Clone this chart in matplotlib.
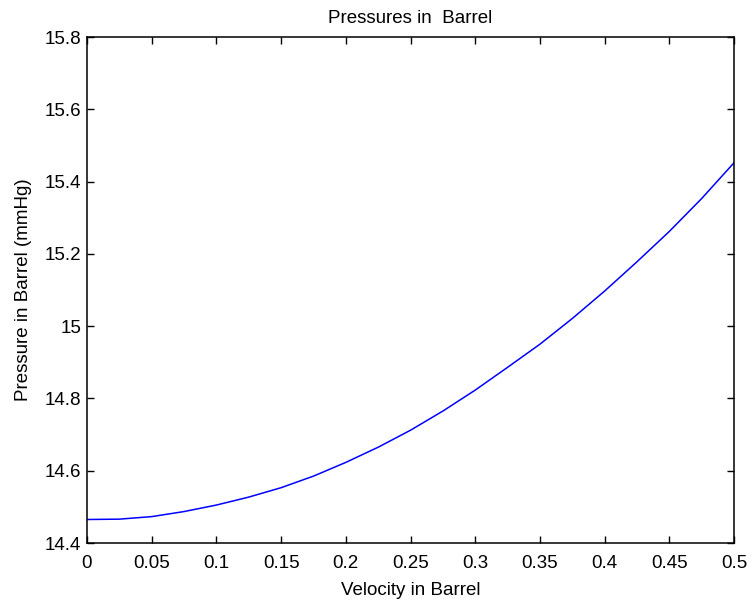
import matplotlib
matplotlib.use("Agg")
import matplotlib.pyplot as plt

plt.rcParams['font.family'] = ['Liberation Sans', 'DejaVu Sans']

velocity = [0, 0.025, 0.05, 0.075, 0.1, 0.125, 0.15, 0.175, 0.2, 0.225, 0.25,
            0.275, 0.3, 0.325, 0.35, 0.375, 0.4, 0.425, 0.45, 0.475, 0.5]
pressure = [14.465, 14.466, 14.473, 14.487, 14.505, 14.527, 14.553, 14.585,
            14.623, 14.665, 14.712, 14.765, 14.823, 14.886, 14.950, 15.021,
            15.097, 15.178, 15.262, 15.353, 15.452]

xticks = [0, 0.05, 0.1, 0.15, 0.2, 0.25, 0.3, 0.35, 0.4, 0.45, 0.5]
xticklabels = ['0', '0.05', '0.1', '0.15', '0.2', '0.25', '0.3', '0.35', '0.4', '0.45', '0.5']
yticks = [14.4, 14.6, 14.8, 15.0, 15.2, 15.4, 15.6, 15.8]
yticklabels = ['14.4', '14.6', '14.8', '15', '15.2', '15.4', '15.6', '15.8']

FS = 13.5

fig = plt.figure(figsize=(7.52, 6.05), dpi=100)
ax = fig.add_axes([87 / 752, 62 / 605, 647 / 752, 506 / 605])
ax.plot(velocity, pressure, color='#0000ff', lw=1.1)

ax.set_xlim(0, 0.5)
ax.set_ylim(14.4, 15.8)
ax.set_xticks(xticks)
ax.set_xticklabels(xticklabels)
ax.set_yticks(yticks)
ax.set_yticklabels(yticklabels)
ax.tick_params(direction='in', length=5, width=1, top=True, right=True,
               labelsize=FS, colors='black')
ax.tick_params(axis='x', pad=9)
ax.tick_params(axis='y', pad=4)
for s in ax.spines.values():
    s.set_linewidth(1.1)
    s.set_color('black')

ax.set_title('Pressures in  Barrel', fontsize=FS, pad=10)
ax.set_xlabel('Velocity in Barrel', fontsize=FS, labelpad=7)
ax.set_ylabel('Pressure in Barrel (mmHg)', fontsize=FS, labelpad=9)

fig.savefig('out.png', dpi=100)
